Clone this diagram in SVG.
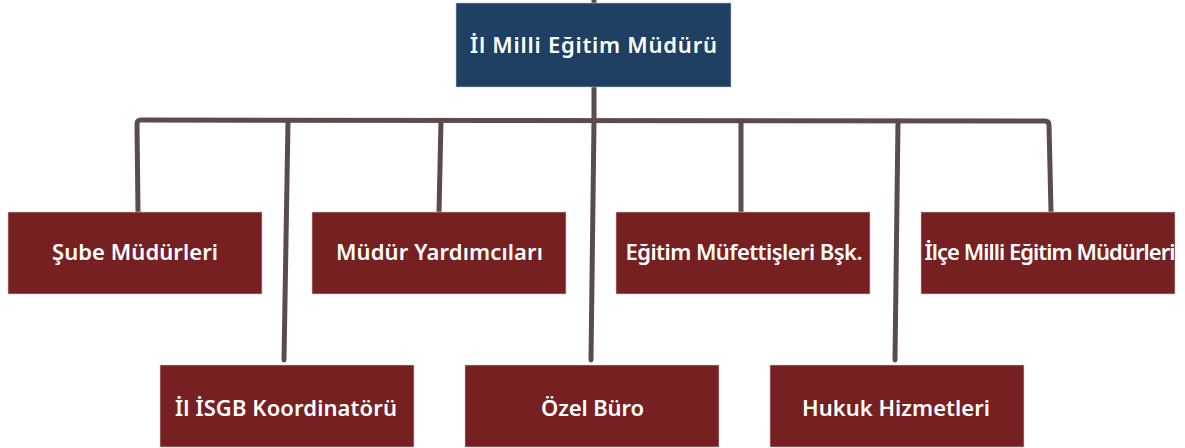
<svg xmlns="http://www.w3.org/2000/svg" width="1185" height="448" viewBox="0 0 1185 448">
<style>
.top{fill:#1f4062;stroke:#b8c4d0;stroke-width:0.6}
.box{fill:#762022;stroke:#d8c8c8;stroke-width:0.6}
.t{fill:#ffffff;font-family:"Noto Sans","Liberation Sans",sans-serif;font-weight:600;font-size:22px;text-anchor:middle;dominant-baseline:central}
.c{fill:none;stroke:#5c4b4b;stroke-width:5;stroke-linecap:round;stroke-linejoin:round}
</style>
<rect width="1185" height="448" fill="#ffffff"/>
<g id="connectors">
<path class="c" d="M594 0 L594 3"/>
<path class="c" d="M594 88 L594 121"/>
<path class="c" d="M138 212 L137 124 Q137 120 141 120 L1045 121 Q1049 121 1049 125 L1051 212"/>
<path class="c" d="M288 121 L284 360"/>
<path class="c" d="M441 121 L439 212"/>
<path class="c" d="M594 121 L591 360"/>
<path class="c" d="M741 121 L741 212"/>
<path class="c" d="M898 121 L895 360"/>
</g>
<g id="n0"><rect class="top" x="456" y="3" width="275" height="84"/><text class="t" x="593.5" y="44" font-size="23.5" textLength="247">İl Milli Eğitim Müdürü</text></g>
<g id="n1"><rect class="box" x="8" y="212" width="254" height="82"/><text class="t" x="135" y="251" textLength="166">Şube Müdürleri</text></g>
<g id="n2"><rect class="box" x="312" y="212" width="254" height="82"/><text class="t" x="439.5" y="251" textLength="207">Müdür Yardımcıları</text></g>
<g id="n3"><rect class="box" x="616" y="212" width="254" height="82"/><text class="t" x="744" y="251" font-size="20.5" textLength="237">Eğitim Müfettişleri Bşk.</text></g>
<g id="n4"><rect class="box" x="921" y="212" width="254" height="82"/><text class="t" x="1050" y="251" font-size="20" textLength="251">İlçe Milli Eğitim Müdürleri</text></g>
<g id="n5"><rect class="box" x="160" y="365" width="254" height="82"/><text class="t" x="286" y="407" textLength="222">İl İSGB Koordinatörü</text></g>
<g id="n6"><rect class="box" x="465" y="365" width="254" height="82"/><text class="t" x="592.5" y="407" textLength="103">Özel Büro</text></g>
<g id="n7"><rect class="box" x="770" y="365" width="254" height="82"/><text class="t" x="896" y="407" textLength="188">Hukuk Hizmetleri</text></g>
</svg>
